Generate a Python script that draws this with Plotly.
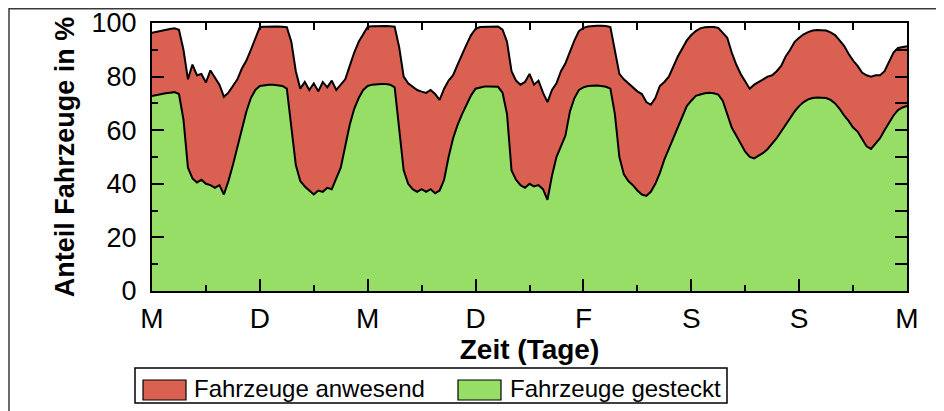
import numpy as np
import plotly.graph_objects as go

# Hourly readings over one week (Mon 0:00 .. next Mon 0:00), share in %
anwesend = [
    # Mo
    96.4, 96.8, 97.2, 97.5, 97.8, 98.0, 97.5, 90.0, 79.0, 84.5, 80.5, 81.0,
    77.8, 82.3, 79.5, 77.0, 72.5, 74.0, 76.5, 79.0, 83.0, 86.0, 90.0, 94.0,
    # Di
    98.5, 98.6, 98.7, 98.7, 98.7, 98.6, 98.4, 93.0, 82.0, 75.5, 78.0, 75.0,
    77.5, 74.5, 78.0, 76.0, 78.5, 75.0, 77.0, 79.0, 84.0, 89.0, 93.0, 96.0,
    # Mi
    98.6, 98.8, 98.9, 98.9, 98.9, 98.8, 98.6, 91.0, 80.0, 77.5, 76.2, 75.0,
    74.4, 73.9, 75.0, 73.5, 71.3, 75.5, 78.5, 80.5, 84.5, 88.5, 92.0, 95.5,
    # Do
    97.8, 98.5, 98.6, 98.7, 98.7, 98.7, 97.5, 93.0, 82.0, 78.5, 77.0, 78.0,
    81.0, 77.0, 78.5, 74.0, 70.5, 75.0, 77.5, 82.0, 85.0, 89.5, 93.5, 97.0,
    # Fr
    98.2, 98.7, 98.9, 99.0, 99.0, 98.9, 98.5, 90.0, 81.0, 79.0, 77.5, 76.0,
    74.5, 73.5, 70.5, 69.5, 72.0, 76.5, 78.0, 80.0, 84.0, 87.5, 90.5, 93.5,
    # Sa
    95.5, 97.0, 98.0, 98.4, 98.5, 98.5, 98.2, 96.5, 94.5, 89.0, 84.5, 81.0,
    78.0, 75.5, 77.0, 78.0, 79.0, 80.0, 80.5, 82.0, 84.0, 87.5, 90.0, 93.0,
    # So
    94.5, 95.8, 96.6, 97.2, 97.4, 97.4, 97.2, 96.5, 95.5, 93.5, 91.5, 88.5,
    86.0, 84.0, 81.5, 80.5, 80.0, 80.5, 80.5, 82.0, 85.5, 89.0, 90.7, 91.0,
    # Mo
    91.3,
]

gesteckt = [
    # Mo
    72.8, 73.2, 73.5, 73.8, 74.0, 74.2, 73.5, 64.0, 46.0, 42.0, 40.5, 41.5,
    40.0, 39.5, 38.5, 39.5, 36.0, 41.0, 47.0, 53.5, 61.0, 67.0, 72.0, 75.0,
    # Di
    76.5, 76.8, 77.0, 77.0, 76.8, 76.5, 75.5, 62.0, 47.0, 41.0, 39.0, 37.5,
    36.0, 37.5, 37.0, 38.5, 38.0, 42.0, 46.0, 54.0, 62.0, 68.0, 72.0, 75.0,
    # Mi
    76.5, 77.0, 77.2, 77.2, 77.2, 77.0, 76.0, 60.0, 45.0, 40.0, 38.0, 37.0,
    38.0, 37.0, 38.0, 36.5, 37.5, 41.5, 50.0, 57.0, 62.0, 66.0, 69.5, 73.0,
    # Do
    75.5, 76.0, 76.3, 76.3, 76.3, 76.2, 74.0, 66.0, 45.0, 41.5, 39.5, 38.5,
    40.0, 39.0, 39.5, 38.0, 34.0, 43.0, 50.0, 54.0, 58.0, 67.0, 72.0, 75.0,
    # Fr
    76.0, 76.5, 76.7, 76.7, 76.5, 76.2, 75.5, 66.0, 50.0, 43.5, 41.0, 39.5,
    37.5, 36.0, 35.5, 37.0, 40.0, 44.0, 49.0, 53.0, 57.5, 61.5, 65.5, 69.0,
    # Sa
    71.0, 72.8, 73.3, 73.8, 74.0, 73.8, 73.3, 71.0, 66.0, 61.0, 58.0, 55.0,
    52.0, 50.0, 49.5, 50.5, 51.5, 53.0, 55.0, 57.0, 59.5, 62.0, 64.5, 67.0,
    # So
    69.0, 70.5, 71.5, 72.0, 72.2, 72.2, 72.0, 71.3, 70.0, 68.0, 65.5, 63.5,
    61.0, 59.5, 57.0, 54.0, 53.0, 55.0, 57.0, 60.0, 63.0, 65.5, 67.5, 68.5,
    # Mo
    69.0,
]

day_labels = ["M", "D", "M", "D", "F", "S", "S", "M"]
series_names = ["Fahrzeuge anwesend", "Fahrzeuge gesteckt"]
series_colors = ["#DA6052", "#97DE66"]

hours = np.arange(len(anwesend))
x_days = hours / 24.0

FONT = "Liberation Sans, Arial, sans-serif"

fig = go.Figure()
fig.add_trace(go.Scatter(
    x=x_days, y=anwesend, name=series_names[0], mode="lines",
    line=dict(color="black", width=2), fill="tozeroy",
    fillcolor=series_colors[0], showlegend=False))
fig.add_trace(go.Scatter(
    x=x_days, y=gesteckt, name=series_names[1], mode="lines",
    line=dict(color="black", width=2), fill="tozeroy",
    fillcolor=series_colors[1], showlegend=False))
# empty trace so that the mirrored top/right axes get drawn
fig.add_trace(go.Scatter(x=[], y=[], xaxis="x2", yaxis="y2",
                         showlegend=False, hoverinfo="skip"))

W, H = 944, 411
L, T = 144, 15
pw, ph = 755, 268
R = W - L - pw
B = H - T - ph
OFF = 8  # page body margin


def px2x(sx):
    return (sx - OFF - L) / pw


def py2y(sy):
    return (T + ph - (sy - OFF)) / ph


shapes = [
    # outer frame
    dict(type="rect", xref="paper", yref="paper",
         x0=px2x(9), x1=px2x(970), y0=py2y(440), y1=py2y(8.7),
         line=dict(color="#3a3a3a", width=1.5), layer="below"),
    # legend box
    dict(type="rect", xref="paper", yref="paper",
         x0=px2x(135), x1=px2x(727), y0=py2y(403), y1=py2y(368),
         line=dict(color="black", width=1.5)),
    dict(type="rect", xref="paper", yref="paper",
         x0=px2x(143), x1=px2x(186), y0=py2y(400), y1=py2y(380),
         fillcolor=series_colors[0], line=dict(color="black", width=1.2)),
    dict(type="rect", xref="paper", yref="paper",
         x0=px2x(458), x1=px2x(501), y0=py2y(400), y1=py2y(380),
         fillcolor=series_colors[1], line=dict(color="black", width=1.2)),
]

annotations = [
    dict(text=series_names[0], xref="paper", yref="paper",
         x=px2x(192), y=py2y(388), xanchor="left", yanchor="middle",
         showarrow=False, font=dict(family=FONT, size=24, color="black")),
    dict(text=series_names[1], xref="paper", yref="paper",
         x=px2x(508), y=py2y(388), xanchor="left", yanchor="middle",
         showarrow=False, font=dict(family=FONT, size=24, color="black")),
]

fig.update_layout(
    width=W, height=H,
    margin=dict(l=L, r=R, t=T, b=B, autoexpand=False),
    paper_bgcolor="white", plot_bgcolor="white",
    font=dict(family=FONT, color="black"),
    shapes=shapes, annotations=annotations,
    xaxis=dict(
        range=[0, 7], tickmode="array", tickvals=list(range(8)),
        ticktext=day_labels, ticks="inside", ticklen=12, tickwidth=1.5,
        tickcolor="black", showline=True, linewidth=2, linecolor="black",
        showgrid=False, zeroline=False, ticklabelstandoff=1,
        tickfont=dict(family=FONT, size=28, color="black"),
        minor=dict(ticks="inside", ticklen=6, tickwidth=1.5, tickcolor="black",
                   tickmode="linear", tick0=0, dtick=0.5, showgrid=False),
        title=dict(text="<b>Zeit (Tage)</b>", standoff=2,
                   font=dict(family=FONT, size=28, color="black")),
        layer="above traces",
    ),
    yaxis=dict(
        range=[0, 100], tickmode="linear", tick0=0, dtick=20,
        ticks="inside", ticklen=12, tickwidth=1.5, tickcolor="black",
        showline=True, linewidth=2, linecolor="black",
        showgrid=False, zeroline=False, ticklabelstandoff=8,
        tickfont=dict(family=FONT, size=27, color="black"),
        minor=dict(ticks="inside", ticklen=6, tickwidth=1.5, tickcolor="black",
                   tickmode="linear", tick0=0, dtick=10, showgrid=False),
        title=dict(text="<b>Anteil Fahrzeuge in %</b>", standoff=9,
                   font=dict(family=FONT, size=27, color="black")),
        layer="above traces",
    ),
    xaxis2=dict(
        range=[0, 7], overlaying="x", side="top", anchor="y2",
        tickmode="linear", tick0=0, dtick=0.5, ticks="inside", ticklen=7,
        tickwidth=1.5, tickcolor="black", showticklabels=False,
        showline=True, linewidth=2, linecolor="black",
        showgrid=False, zeroline=False, layer="above traces",
    ),
    yaxis2=dict(
        range=[0, 100], overlaying="y", side="right", anchor="x2",
        tickmode="linear", tick0=0, dtick=10, ticks="inside", ticklen=12,
        tickwidth=1.5, tickcolor="black", showticklabels=False,
        showline=True, linewidth=2, linecolor="black",
        showgrid=False, zeroline=False, layer="above traces",
    ),
)

fig.write_html("out.html")
